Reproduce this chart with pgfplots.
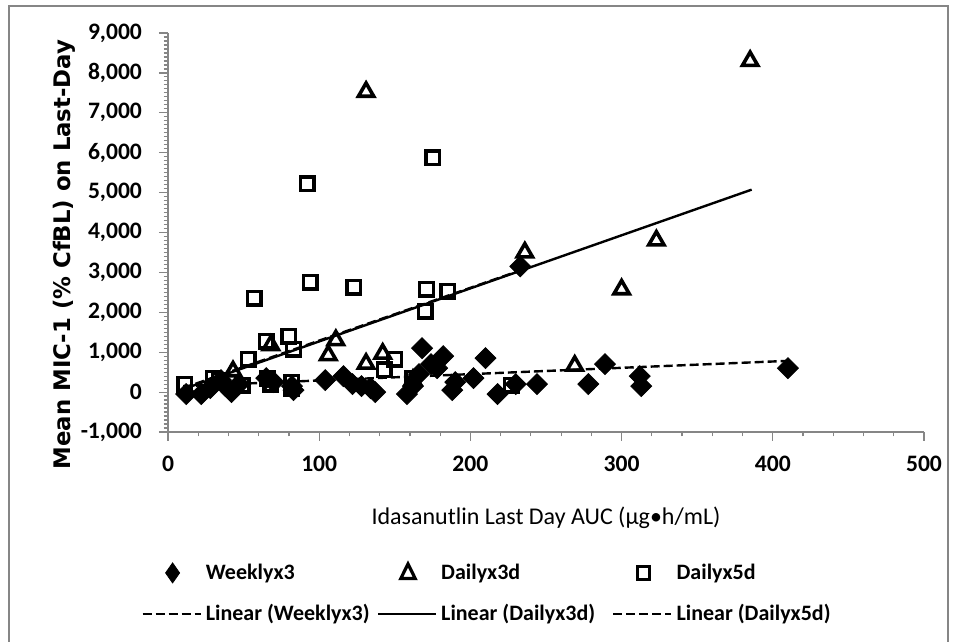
\documentclass[border=0pt]{standalone}
\usepackage{fontspec}
\setmainfont{Carlito}
\newfontfamily\ylabfont{DejaVu Sans}
\usepackage{pgfplots}
\pgfplotsset{compat=1.18}
\definecolor{axgray}{RGB}{134,134,134}
\pgfplotsset{linelegend/.style={legend image code/.code={\draw[##1] (0pt,0pt) -- (29pt,0pt);}}}
\begin{document}
\begin{tikzpicture}
\useasboundingbox (-84pt,-104.5pt) rectangle (394pt,216pt);
\draw[axgray, line width=0.9pt] (-79.5pt,-107pt) rectangle (390pt,213pt);
\begin{axis}[
  scale only axis, width=378pt, height=199.5pt,
  xmin=0, xmax=500, ymin=-1000, ymax=9000,
  axis lines=left, axis line style={-, draw=axgray, line width=0.8pt},
  xtick={0,100,...,500}, ytick={-1000,0,...,9000},
  minor x tick num=4, minor y tick num=9,
  tick style={axgray, line width=0.6pt},
  major tick length=4.5pt, minor tick length=2.2pt,
  tick align=outside,
  /pgf/number format/assume math mode=true,
  /pgf/number format/1000 sep={,},
  ticklabel style={font=\fontsize{11.8}{13}\selectfont\bfseries},
  yticklabel style={xshift=-5pt},
  xticklabel style={yshift=-4pt},
  xlabel={Idasanutlin Last Day AUC (μg•h/mL)},
  xlabel style={font=\fontsize{12}{14}\selectfont, at={(axis description cs:0.5,-0.215)}, anchor=center},
  ylabel={Mean MIC-1 (\% CfBL) on Last-Day},
  ylabel style={font=\ylabfont\fontsize{11.4}{13}\selectfont\bfseries, at={(axis description cs:-0.1376,0.445)}, anchor=center},
  legend columns=3,
  legend style={draw=none, fill=none, at={(-0.0357,-0.405)}, anchor=west, inner sep=0pt,
    font=\fontsize{11}{13}\selectfont\bfseries, column sep=0pt, row sep=7pt},
  legend cell align=left,
]
\addplot[only marks, mark=square*, mark size=3.7pt, mark options={rotate=45, fill=black, draw=black},
  legend image code/.code={\draw[black, fill=black] (15pt,0pt) +(0,5pt) -- +(3.5pt,0) -- +(0,-5pt) -- +(-3.5pt,0) -- cycle;}]
coordinates {
(12,-50) (22,-50) (28,100) (35,300) (38,150) (42,0) (47,200) (65,350) (70,250)
(82,150) (83,50) (104,300) (116,400) (122,200) (128,150) (134,100) (137,0)
(158,-50) (162,150) (166,450) (168,1100) (174,700) (178,600) (182,900)
(188,50) (190,250) (202,350) (210,850) (218,-50) (230,200) (233,3150)
(244,200) (278,200) (289,700) (312,400) (313,150) (410,600)
};
\addlegendentry{\makebox[83.5pt][l]{Weeklyx3}}
\addplot[only marks, mark=triangle, mark size=4.4pt, mark options={black, line width=1.8pt, solid},
  legend image code/.code={\draw[black, line width=1.6pt] (15pt,0pt) +(0,4.5pt) -- +(3.6pt,-2.8pt) -- +(-3.6pt,-2.8pt) -- cycle;}]
coordinates {
(385,8300) (131,7525) (236,3500) (323,3800) (300,2575) (269,660) (111,1300)
(106,925) (131,710) (142,960) (68,1175) (43,520) (162,300)
};
\addlegendentry{\makebox[83.5pt][l]{Dailyx3d}}
\addplot[only marks, mark=square, mark size=3.4pt, mark options={black, line width=1.7pt, solid},
  legend image code/.code={\draw[black, line width=1.5pt] (15pt,0pt) +(-3.2pt,-3.2pt) rectangle +(3.2pt,3.2pt);}]
coordinates {
(175,5875) (92,5225) (94,2750) (123,2625) (57,2350) (171,2575) (185,2525)
(170,2025) (80,1400) (65,1275) (83,1075) (53,825) (150,825) (143,560)
(30,350) (11,200) (49,170) (66,350) (68,200) (82,250) (82,100) (162,350)
(227,175) (34,300)
};
\addlegendentry{\makebox[83.5pt][l]{Dailyx5d}}
\addplot[black, line width=1.2pt, dash pattern=on 4.5pt off 2pt, linelegend]
coordinates {(10,149) (410,783)};
\addlegendentry{\makebox[83.5pt][l]{Linear (Weeklyx3)}}
\addplot[black, line width=1.2pt, linelegend]
coordinates {(7,33) (386,5074)};
\addlegendentry{\makebox[83.5pt][l]{Linear (Dailyx3d)}}
\addplot[black, line width=1.2pt, dash pattern=on 4.5pt off 2pt, linelegend]
coordinates {(10,100) (230,3010)};
\addlegendentry{\makebox[83.5pt][l]{Linear (Dailyx5d)}}
\end{axis}
\end{tikzpicture}
\end{document}
